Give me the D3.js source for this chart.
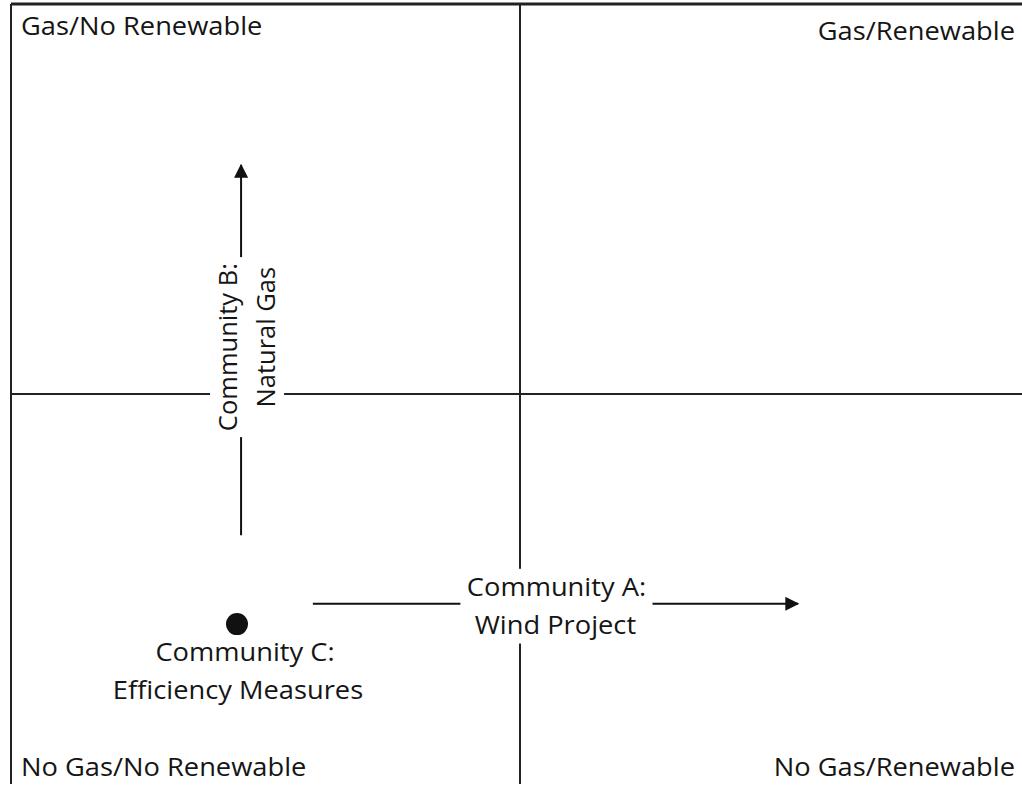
<!DOCTYPE html>
<html>
<head>
<meta charset="utf-8">
<script src="https://cdn.jsdelivr.net/npm/d3@7"></script>
<style>
	body { margin: 0; background: #fff; }
	text { font-family: "Open Sans", Lato, sans-serif; fill: #151515; font-size: 25.5px; }
</style>
</head>
<body>
<script>
(function () {
	//quadrant corner labels, in data units (x = renewable, y = gas)
	var quadLabels = ["Gas/No Renewable", "Gas/Renewable", "No Gas/No Renewable", "No Gas/Renewable"];
	var quadX = [0, 2, 0, 2];
	var quadY = [2, 2, 0, 0];

	//community moves: start and end of each arrow
	var arrowNames = ["Community A:", "Community B:"];
	var arrowSub = ["Wind Project", "Natural Gas"];
	var arrowX0 = [0.593, 0.452];
	var arrowY0 = [0.462, 0.638];
	var arrowX1 = [1.546, 0.452];
	var arrowY1 = [0.462, 1.587];

	//community that stays put
	var pointNames = ["Community C:"];
	var pointSub = ["Efficiency Measures"];
	var pointX = [0.444];
	var pointY = [0.410];

	//the scanned original is a bit wider than tall, so text gets stretched sideways
	var stretch = 1.07;

	window.onload = setChart();

	function place(px, py) {
		return "translate(" + px + "," + py + ") scale(" + stretch + ",1)";
	}

	function setChart() {
		var width = 1022, height = 785;

		var svg = d3.select("body").append("svg")
			.attr("width", width)
			.attr("height", height);

		//frame runs a little past the right and bottom edges of the page
		var x = d3.scaleLinear().domain([0, 2]).range([11, 1029]);
		var y = d3.scaleLinear().domain([0, 2]).range([784, 4]);

		svg.append("defs").append("marker")
			.attr("id", "head")
			.attr("viewBox", "0 0 10 10")
			.attr("refX", 9)
			.attr("refY", 5)
			.attr("markerWidth", 17)
			.attr("markerHeight", 14)
			.attr("markerUnits", "userSpaceOnUse")
			.attr("orient", "auto")
			.append("path")
			.attr("d", "M0,0 L10,5 L0,10 Z")
			.style("fill", "#111");

		//outer frame (top + left visible)
		svg.append("line")
			.attr("x1", x(0)).attr("x2", x(2)).attr("y1", y(2)).attr("y2", y(2))
			.style("stroke", "#222").style("stroke-width", 3);
		svg.append("line")
			.attr("x1", x(0)).attr("x2", x(0)).attr("y1", y(2)).attr("y2", y(0))
			.style("stroke", "#222").style("stroke-width", 2);

		//quadrant dividers
		svg.append("line")
			.attr("x1", x(1)).attr("x2", x(1)).attr("y1", y(2)).attr("y2", y(0))
			.style("stroke", "#222").style("stroke-width", 2);
		svg.append("line")
			.attr("x1", x(0)).attr("x2", x(2)).attr("y1", y(1)).attr("y2", y(1))
			.style("stroke", "#222").style("stroke-width", 2);

		//quadrant labels
		var quadData = quadLabels.map(function (d, i) {
			return { label: d, x: quadX[i], y: quadY[i] };
		});
		svg.selectAll(".quad")
			.data(quadData)
			.enter()
			.append("text")
			.attr("class", "quad")
			.attr("transform", function (d) {
				var px = d.x == 0 ? x(d.x) + 10 : x(d.x) - 14;
				var py = d.y == 0 ? y(d.y) - 8 : (d.x == 0 ? y(d.y) + 31 : y(d.y) + 36);
				return place(px, py);
			})
			.attr("text-anchor", function (d) { return d.x == 0 ? "start" : "end"; })
			.text(function (d) { return d.label; });

		//arrows
		var arrowData = arrowNames.map(function (d, i) {
			return { name: d, sub: arrowSub[i], x0: arrowX0[i], y0: arrowY0[i], x1: arrowX1[i], y1: arrowY1[i] };
		});
		svg.selectAll(".arrow")
			.data(arrowData)
			.enter()
			.append("line")
			.attr("class", "arrow")
			.attr("x1", function (d) { return x(d.x0); })
			.attr("y1", function (d) { return y(d.y0); })
			.attr("x2", function (d) { return x(d.x1); })
			.attr("y2", function (d) { return y(d.y1); })
			.style("stroke", "#111")
			.style("stroke-width", 2)
			.attr("marker-end", "url(#head)");

		//labels sit on white boxes that cut the lines behind them
		var labels = svg.selectAll(".arrowLabel")
			.data(arrowData)
			.enter()
			.append("g")
			.attr("class", "arrowLabel")
			.attr("transform", function (d) {
				var cx = (x(d.x0) + x(d.x1)) / 2, cy = (y(d.y0) + y(d.y1)) / 2;
				if (d.x0 == d.x1) return "translate(" + (cx + 1) + "," + (cy - 3) + ") rotate(-90)";
				return place(cx, cy - 1);
			});
		var box = labels.append("rect").style("fill", "#fff");
		labels.append("text")
			.attr("text-anchor", "middle")
			.attr("x", function (d) { return d.x0 == d.x1 ? 0 : 1; })
			.attr("y", function (d) { return d.x0 == d.x1 ? -5 : -7; })
			.text(function (d) { return d.name; });
		labels.append("text")
			.attr("text-anchor", "middle")
			.attr("x", function (d) { return d.x0 == d.x1 ? 10 : 0; })
			.attr("y", function (d) { return d.x0 == d.x1 ? 33 : 31; })
			.text(function (d) { return d.sub; });
		//size each white box to its text
		box.each(function () {
			var bb = { x0: Infinity, y0: Infinity, x1: -Infinity, y1: -Infinity };
			d3.select(this.parentNode).selectAll("text").each(function () {
				var b = this.getBBox();
				bb.x0 = Math.min(bb.x0, b.x); bb.y0 = Math.min(bb.y0, b.y);
				bb.x1 = Math.max(bb.x1, b.x + b.width); bb.y1 = Math.max(bb.y1, b.y + b.height);
			});
			d3.select(this)
				.attr("x", bb.x0 - 6).attr("y", bb.y0)
				.attr("width", bb.x1 - bb.x0 + 12).attr("height", bb.y1 - bb.y0 + 2);
		});

		//point
		var pointData = pointNames.map(function (d, i) {
			return { name: d, sub: pointSub[i], x: pointX[i], y: pointY[i] };
		});
		var pts = svg.selectAll(".pt")
			.data(pointData)
			.enter()
			.append("g")
			.attr("class", "pt")
			.attr("transform", function (d) { return "translate(" + x(d.x) + "," + y(d.y) + ")"; });
		pts.append("circle")
			.attr("r", 11)
			.style("fill", "#111");
		pts.append("text")
			.attr("transform", place(8, 37))
			.attr("text-anchor", "middle")
			.text(function (d) { return d.name; });
		pts.append("text")
			.attr("transform", place(1, 75))
			.attr("text-anchor", "middle")
			.text(function (d) { return d.sub; });
	}
})();
</script>
</body>
</html>
